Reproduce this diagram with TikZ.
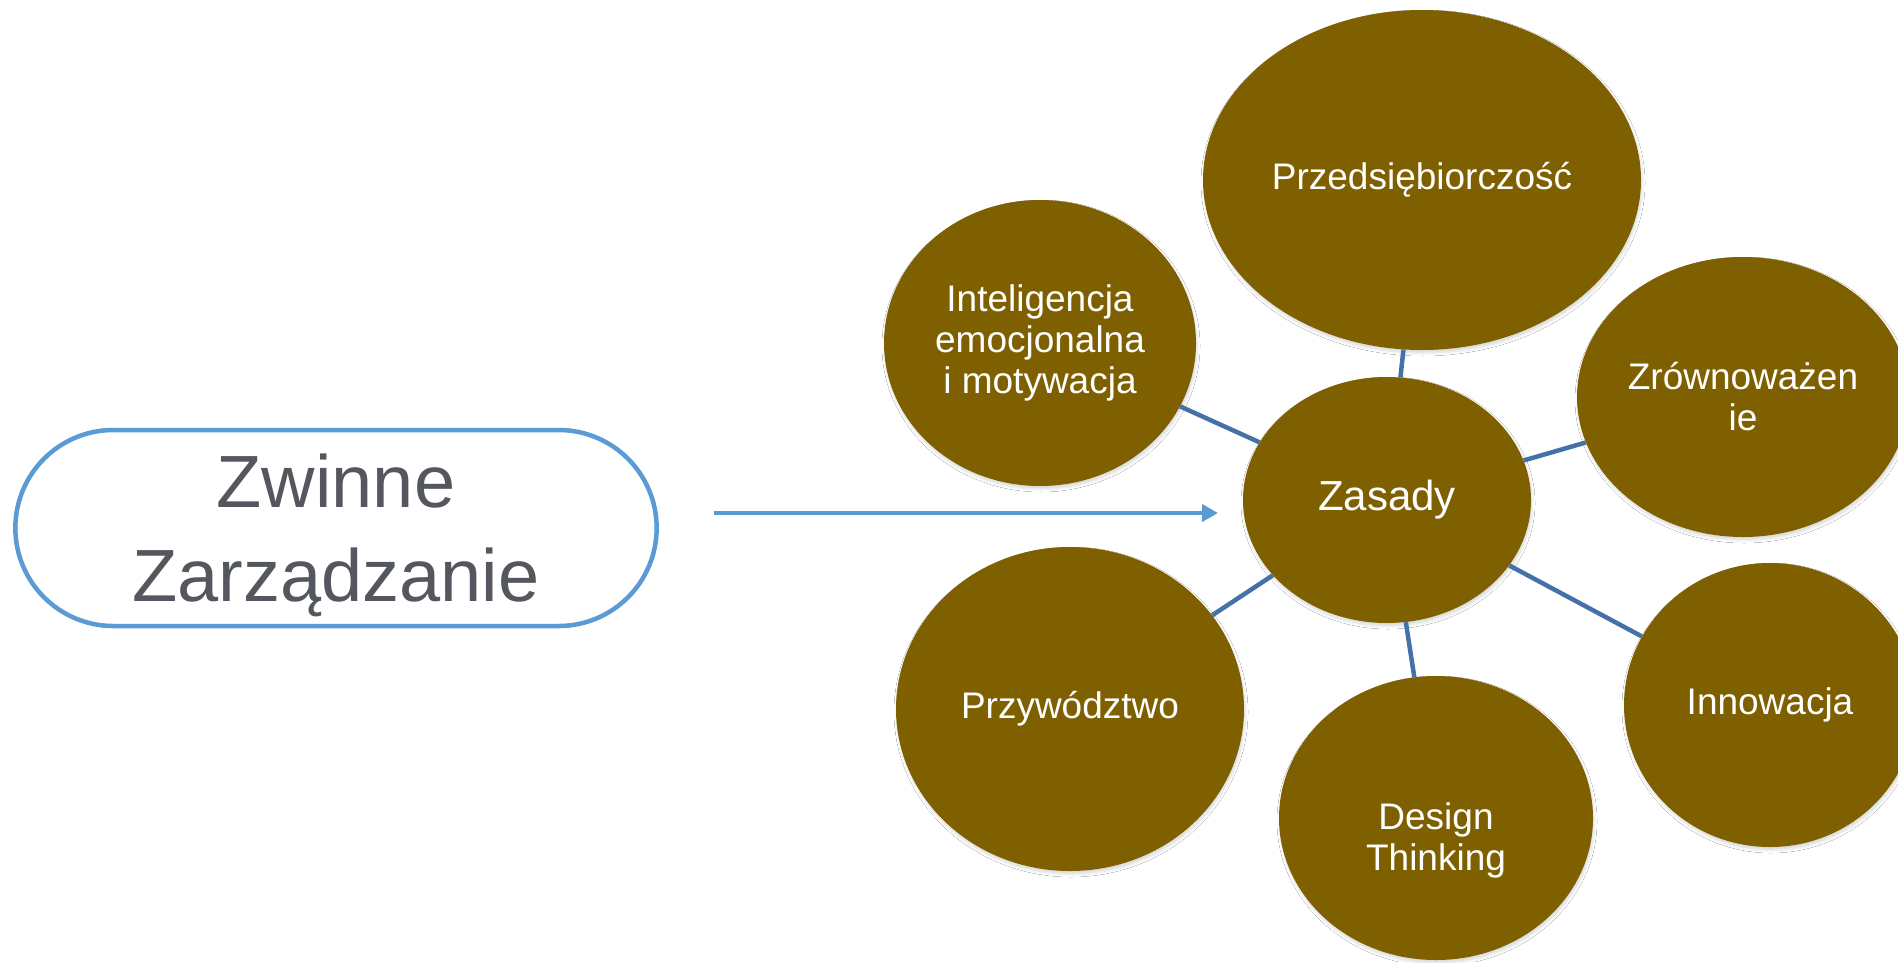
\documentclass[tikz,border=0pt]{standalone}
\usepackage{fontspec}
\setmainfont{Liberation Sans}
\usepackage{tikz}
\usetikzlibrary{arrows.meta, positioning, shapes.geometric, shapes.misc, shadows.blur}
\definecolor{zmOlive}{RGB}{127,96,0}
\definecolor{zmBlue}{RGB}{91,155,213}
\definecolor{zmSteel}{RGB}{68,114,168}
\definecolor{zmGrey}{RGB}{84,88,94}

\begin{document}
\begin{tikzpicture}[
    x=1pt, y=-1pt,
    bubble/.style={ellipse, fill=zmOlive, text=white, align=center, inner sep=0pt,
                   font=\fontsize{37}{41}\selectfont,
                   blur shadow={shadow xshift=1pt, shadow yshift=-3pt,
                                shadow blur radius=3pt, shadow opacity=15}},
    bubtext/.style={text=white, align=center, font=\fontsize{37}{41}\selectfont},
    spoke/.style={draw=zmSteel, line width=4.5pt}
]
\useasboundingbox (0,0) rectangle (1898,962);
\fill[white] (0,0) rectangle (1898,962);
\clip (0,0) rectangle (1898,962);

% Title box
\node[rounded rectangle, draw=zmBlue, line width=4.5pt, fill=white, text=zmGrey,
      align=center, minimum width=648, minimum height=196, text depth=0pt,
      font=\fontsize{74}{94}\selectfont] (title) at (336,528) {Zwinne\\Zarządzanie};

% Arrow to the hub
\coordinate (arrowtail) at (714,513);
\coordinate (arrowtip) at (1218,513);
\draw[draw=zmBlue, line width=4.5pt, -{Triangle[length=16pt, width=17pt]}]
    (arrowtail) -- (arrowtip);

% Hub and satellites
\node[bubble, font=\fontsize{42}{46}\selectfont,
      minimum width=288, minimum height=246] (zasady) at (1387,500) {Zasady};
\node[bubble, minimum width=438, minimum height=340] (przedsieb) at (1422,180) {Przedsiębiorczość};
\node[bubble, minimum width=312, minimum height=286] (intel) at (1040,343)
     {Inteligencja\\emocjonalna\\i motywacja};
\node[bubble, minimum width=332, minimum height=280] (zrown) at (1743,397) {Zrównoważen\\ie};
\node[bubble, minimum width=292, minimum height=284] (innow) at (1770,705) {Innowacja};
\node[bubble, minimum width=314, minimum height=284] (design) at (1436,818) {};
\node[bubtext] (designtxt) at (1436,840) {Design\\Thinking};
\node[bubble, minimum width=348, minimum height=324] (przyw) at (1070,709) {Przywództwo};

% Spokes
\foreach \n in {przedsieb, zrown, innow, design, przyw, intel}
    \draw[spoke] (zasady) -- (\n);
\end{tikzpicture}
\end{document}
